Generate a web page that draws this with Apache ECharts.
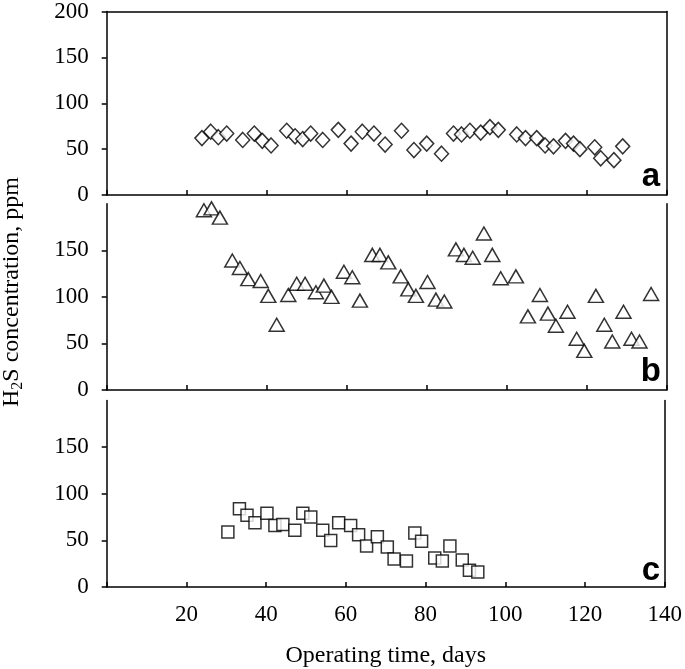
<!DOCTYPE html>
<html>
<head>
<meta charset="utf-8">
<script src="https://cdn.jsdelivr.net/npm/echarts@6/dist/echarts.min.js"></script>
<style>html,body{margin:0;padding:0;background:#fff}#c{width:685px;height:669px}</style>
</head>
<body>
<div id="c"></div>
<script>
// ---- data ----
var aDays = [23.8, 26, 27.9, 30, 34, 36.9, 38.9, 41.1, 45, 47.1, 49, 51, 54, 57.9, 61.1, 63.9, 66.8, 69.6, 73.7, 76.8, 80, 83.7, 86.7, 88.7, 90.8, 93.5, 95.8, 97.9, 102.5, 104.7, 107.5, 109.6, 111.7, 114.7, 116.7, 118.3, 122, 123.5, 126.8, 129];
var aH2S = [62, 69, 63, 67, 60, 67, 59, 54, 70, 64, 61, 67, 60, 71, 56, 69, 67, 55, 70, 49, 56, 45, 67, 66, 70, 68, 74, 71, 66, 62, 62, 54, 53, 59, 56, 50, 52, 40, 38, 53];

var bDays = [24.3, 26.2, 28.3, 31.4, 33.3, 35.4, 38.5, 40.4, 42.5, 45.4, 47.5, 49.6, 52.3, 54.3, 56.2, 59.3, 61.4, 63.3, 66.4, 68.3, 70.4, 73.5, 75.4, 77.3, 80.2, 82.3, 84.4, 87.3, 89.3, 91.5, 94.3, 96.4, 98.5, 102.3, 105.3, 108.3, 110.3, 112.3, 115.2, 117.5, 119.4, 122.3, 124.4, 126.4, 129.2, 131.2, 133.2, 136.1];
var bH2S = [193, 195, 185, 139, 131, 119, 117, 101, 70, 102, 114, 114, 105, 112, 100, 127, 121, 96, 145, 145, 137, 122, 108, 101, 116, 97, 95, 151, 145, 142, 168, 145, 120, 122, 79, 102, 82, 69, 84, 55, 42, 101, 70, 52, 84, 55, 52, 103];

var cDays = [30.4, 33.3, 35.2, 37.2, 40.2, 42.2, 44.2, 47.2, 49.2, 51.2, 54.2, 56.2, 58.2, 61.2, 63.2, 65.2, 67.9, 70.4, 72.1, 75.2, 77.3, 79, 82.3, 84.2, 86.1, 89.2, 91, 93.1];
var cH2S = [59, 84, 77, 69, 79, 66, 67, 61, 79, 75, 61, 50, 69, 66, 56, 44, 54, 43, 30, 28, 58, 49, 31, 28, 44, 29, 18, 16];

var xTickLabels = [20, 40, 60, 80, 100, 120, 140];
var yTicksTop = [0, 50, 100, 150, 200];
var yTicksLower = [0, 50, 100, 150];
var panelLetters = ['a', 'b', 'c'];
var xTitle = 'Operating time, days';

function pairs(xs, ys) { return xs.map(function (x, i) { return [x, ys[i]]; }); }

var serif = 'Liberation Serif';
var lineStyle = { color: '#000', width: 1.5 };

var grids = [
  { left: 106.7, width: 560, top: 8.3, height: 186.7 },
  { left: 106.7, width: 560, top: 203.7, height: 186.3 },
  { left: 106.7, width: 560, top: 400.6, height: 186.7 }
];

var xAxes = [], yAxes = [];
for (var i = 0; i < 3; i++) {
  xAxes.push({
    type: 'value', gridIndex: i, min: 0, max: 140, interval: 20, position: 'bottom',
    axisLine: { show: true, onZero: false, lineStyle: lineStyle },
    axisTick: { show: true, inside: true, length: 5, lineStyle: lineStyle },
    axisLabel: i === 2 ? { show: true, customValues: xTickLabels, fontFamily: serif, fontSize: 23, color: '#000', margin: 16 } : { show: false },
    splitLine: { show: false },
    name: i === 2 ? xTitle : '', nameLocation: 'middle', nameGap: 57,
    nameTextStyle: { fontFamily: serif, fontSize: 24, color: '#000' }
  });
  yAxes.push({
    type: 'value', gridIndex: i, min: 0, max: 200, interval: 50, position: 'left',
    axisLine: { show: true, onZero: false, lineStyle: lineStyle },
    axisTick: { show: true, inside: false, length: 5, lineStyle: lineStyle, customValues: i === 0 ? yTicksTop : yTicksLower },
    axisLabel: { show: true, customValues: i === 0 ? yTicksTop : yTicksLower, fontFamily: serif, fontSize: 23, color: '#000', margin: 18 },
    splitLine: { show: false }
  });
}
// right border lines
for (var j = 0; j < 3; j++) {
  yAxes.push({
    type: 'value', gridIndex: j, min: 0, max: 200, position: 'right',
    axisLine: { show: true, onZero: false, lineStyle: lineStyle },
    axisTick: { show: false }, axisLabel: { show: false }, splitLine: { show: false }
  });
}
// top border of panel a
xAxes.push({
  type: 'value', gridIndex: 0, min: 0, max: 140, position: 'top',
  axisLine: { show: true, onZero: false, lineStyle: lineStyle },
  axisTick: { show: false }, axisLabel: { show: false }, splitLine: { show: false }
});

var markerStyle = { color: '#fff', borderColor: '#000', borderWidth: 1.5 };

var option = {
  animation: false,
  backgroundColor: '#fff',
  grid: grids,
  xAxis: xAxes,
  yAxis: yAxes,
  series: [
    { type: 'scatter', xAxisIndex: 0, yAxisIndex: 0, data: pairs(aDays, aH2S), symbol: 'diamond', symbolSize: [14, 15], itemStyle: markerStyle },
    { type: 'scatter', xAxisIndex: 1, yAxisIndex: 1, data: pairs(bDays, bH2S), symbol: 'triangle', symbolSize: [15, 13], itemStyle: markerStyle },
    { type: 'scatter', xAxisIndex: 2, yAxisIndex: 2, data: pairs(cDays, cH2S), symbol: 'rect', symbolSize: [12, 12], itemStyle: markerStyle }
  ],
  graphic: [
    {
      type: 'text', x: 12, y: 292, rotation: Math.PI / 2,
      style: {
        text: '{n|H}{s|2}{n|S concentration, ppm}',
        align: 'center', verticalAlign: 'middle',
        fill: '#000', font: '24px "Liberation Serif"',
        rich: {
          n: { fontFamily: serif, fontSize: 24, lineHeight: 28, verticalAlign: 'middle', fill: '#000' },
          s: { fontFamily: serif, fontSize: 16, lineHeight: 16, verticalAlign: 'bottom', fill: '#000' }
        }
      }
    },
    { type: 'text', x: 660, y: 177, style: { text: panelLetters[0], align: 'right', verticalAlign: 'middle', font: 'bold 33px "Liberation Sans"', fill: '#000' } },
    { type: 'text', x: 661, y: 372, style: { text: panelLetters[1], align: 'right', verticalAlign: 'middle', font: 'bold 33px "Liberation Sans"', fill: '#000' } },
    { type: 'text', x: 660, y: 571, style: { text: panelLetters[2], align: 'right', verticalAlign: 'middle', font: 'bold 33px "Liberation Sans"', fill: '#000' } }
  ]
};

var chart = echarts.init(document.getElementById('c'), null, { renderer: 'canvas' });
chart.setOption(option);
</script>
</body>
</html>
